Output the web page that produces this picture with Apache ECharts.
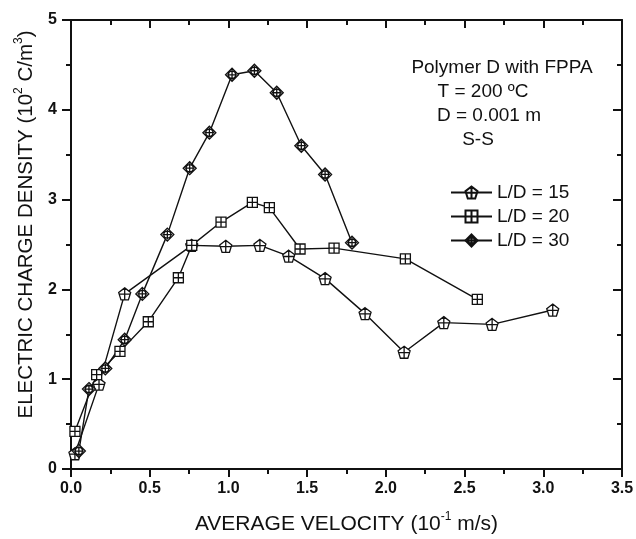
<!DOCTYPE html>
<html>
<head>
<meta charset="utf-8">
<script src="https://cdn.jsdelivr.net/npm/echarts@6/dist/echarts.min.js"></script>
<style>
html,body{margin:0;padding:0;background:#fff;}
#c{width:636px;height:539px;}
</style>
</head>
<body>
<div id="c"></div>
<script>
// ---- data ----
var seriesNames = ['L/D = 15', 'L/D = 20', 'L/D = 30'];
var x15 = [0.025, 0.178, 0.341, 0.767, 0.983, 1.20, 1.383, 1.614, 1.868, 2.116, 2.368, 2.675, 3.06];
var y15 = [0.17, 0.945, 1.95, 2.49, 2.48, 2.49, 2.37, 2.12, 1.73, 1.30, 1.63, 1.61, 1.77];
var x20 = [0.025, 0.163, 0.311, 0.491, 0.682, 0.767, 0.953, 1.152, 1.26, 1.455, 1.671, 2.124, 2.581];
var y20 = [0.42, 1.05, 1.31, 1.64, 2.13, 2.49, 2.75, 2.97, 2.91, 2.45, 2.46, 2.34, 1.89];
var x30 = [0.05, 0.114, 0.218, 0.341, 0.453, 0.612, 0.754, 0.879, 1.023, 1.165, 1.307, 1.463, 1.614, 1.785];
var y30 = [0.20, 0.89, 1.12, 1.44, 1.95, 2.61, 3.35, 3.745, 4.39, 4.435, 4.19, 3.60, 3.28, 2.52];
var xTicks = ['0.0', '0.5', '1.0', '1.5', '2.0', '2.5', '3.0', '3.5'];
var yTicks = ['0', '1', '2', '3', '4', '5'];
var notes = ['Polymer D with FPPA', 'T = 200 ºC', 'D = 0.001 m', 'S-S'];

function pairs(xs, ys) { return xs.map(function (v, i) { return [v, ys[i]]; }); }

var FONT = '"Liberation Sans", Arial, sans-serif';
var INK = '#111';

var symPent = 'path://M10 0 L19.51 6.91 L15.88 18.09 L4.12 18.09 L0.49 6.91 Z M10 0 L10 18.09 M1.2 9.5 L18.8 9.5';
var symSquare = 'path://M0 0 L20 0 L20 20 L0 20 Z M10 0 L10 20 M0 10 L20 10';
var symDiamond = 'path://M10 0 L20 10 L10 20 L0 10 Z M15.5 10 A5.5 5.5 0 1 1 4.5 10 A5.5 5.5 0 1 1 15.5 10 M10 2.5 L10 17.5 M2.5 10 L17.5 10';

function mkSeries(name, data, sym, size) {
  return {
    name: name, type: 'line', data: data,
    symbol: sym, symbolSize: size, showSymbol: true,
    lineStyle: { color: INK, width: 1.4 },
    itemStyle: { color: '#fff', borderColor: INK, borderWidth: 1.3 },
    emphasis: { disabled: true },
    animation: false, z: 3
  };
}

var axisLine = { show: true, onZero: false, lineStyle: { color: INK, width: 2 } };

function note(i, cx, cy) {
  return { type: 'text', x: cx, y: cy, silent: true,
    style: { text: notes[i], align: 'center', verticalAlign: 'middle', font: '19px ' + FONT, fill: INK } };
}

var option = {
  animation: false,
  backgroundColor: '#fff',
  grid: { left: 71, right: 14, top: 20, bottom: 70, containLabel: false, outerBoundsMode: 'none' },
  legend: {
    orient: 'vertical', left: 445, top: 178,
    itemWidth: 41, itemHeight: 15, itemGap: 5,
    textStyle: { fontFamily: FONT, fontSize: 19, color: INK },
    data: seriesNames
  },
  xAxis: [{
    type: 'value', min: 0, max: 3.5, interval: 0.5, position: 'bottom',
    axisLine: axisLine,
    axisTick: { show: true, inside: false, length: 8, lineStyle: { color: INK, width: 2 } },
    minorTick: { show: true, splitNumber: 2, length: 5, lineStyle: { color: INK, width: 2 } },
    splitLine: { show: false },
    axisLabel: {
      margin: 12, fontFamily: FONT, fontSize: 16, fontWeight: 'bold', color: INK,
      formatter: function (v) { return xTicks[Math.round(v / 0.5)]; }
    },
    name: '{n|AVERAGE VELOCITY (10}{s|-1}{n| m/s)}',
    nameLocation: 'middle', nameGap: 42,
    nameTextStyle: {
      rich: {
        n: { fontFamily: FONT, fontSize: 21, color: INK, lineHeight: 26 },
        s: { fontFamily: FONT, fontSize: 12, color: INK, lineHeight: 14, verticalAlign: 'top' }
      }
    }
  }, {
    type: 'value', min: 0, max: 3.5, interval: 0.5, position: 'top',
    axisLine: axisLine,
    axisTick: { show: true, inside: true, length: 8, lineStyle: { color: INK, width: 2 } },
    minorTick: { show: true, splitNumber: 2, length: 5, lineStyle: { color: INK, width: 2 } },
    splitLine: { show: false }, axisLabel: { show: false }
  }],
  yAxis: [{
    type: 'value', min: 0, max: 5, interval: 1, position: 'left',
    axisLine: axisLine,
    axisTick: { show: true, inside: false, length: 9, lineStyle: { color: INK, width: 2 } },
    minorTick: { show: true, splitNumber: 2, length: 5, lineStyle: { color: INK, width: 2 } },
    splitLine: { show: false },
    axisLabel: {
      margin: 14, fontFamily: FONT, fontSize: 16, fontWeight: 'bold', color: INK,
      formatter: function (v) { return yTicks[Math.round(v)]; }
    },
    name: '{n|ELECTRIC CHARGE DENSITY (10}{s|2}{n| C/m}{s|3}{n|)}',
    nameLocation: 'middle', nameGap: 32, nameRotate: 90,
    nameTextStyle: {
      padding: [0, 0, 0, 40],
      rich: {
        n: { fontFamily: FONT, fontSize: 20.5, color: INK, lineHeight: 26 },
        s: { fontFamily: FONT, fontSize: 12, color: INK, lineHeight: 14, verticalAlign: 'top' }
      }
    }
  }, {
    type: 'value', min: 0, max: 5, interval: 1, position: 'right',
    axisLine: axisLine,
    axisTick: { show: true, inside: true, length: 9, lineStyle: { color: INK, width: 2 } },
    minorTick: { show: true, splitNumber: 2, length: 5, lineStyle: { color: INK, width: 2 } },
    splitLine: { show: false }, axisLabel: { show: false }
  }],
  graphic: [
    note(0, 502, 68), note(1, 483, 92), note(2, 489, 116), note(3, 478, 140)
  ],
  series: [
    mkSeries(seriesNames[0], pairs(x15, y15), symPent, 12),
    mkSeries(seriesNames[1], pairs(x20, y20), symSquare, 10),
    mkSeries(seriesNames[2], pairs(x30, y30), symDiamond, 13)
  ]
};

var chart = echarts.init(document.getElementById('c'), null, { renderer: 'canvas' });
chart.setOption(option);
</script>
</body>
</html>
